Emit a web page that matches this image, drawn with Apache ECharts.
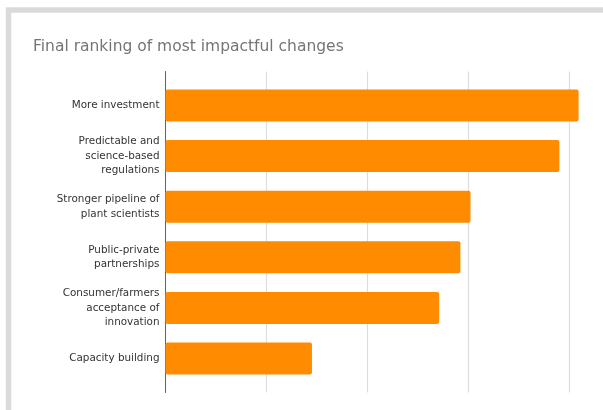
<!DOCTYPE html>
<html>
<head>
<meta charset="utf-8">
<style>
  html, body { margin: 0; padding: 0; background: #ffffff; }
  #chart { width: 603px; height: 410px; }
</style>
<script src="https://cdn.jsdelivr.net/npm/echarts@6/dist/echarts.min.js"></script>
</head>
<body>
<div id="chart"></div>
<script>
// Ranking categories (top to bottom) and their scores
const categories = [
  'More investment',
  'Predictable and\nscience-based\nregulations',
  'Stronger pipeline of\nplant scientists',
  'Public-private\npartnerships',
  'Consumer/farmers\nacceptance of\ninnovation',
  'Capacity building'
];
const scores = [4.09, 3.90, 3.02, 2.92, 2.71, 1.45];
const titleText = 'Final ranking of most impactful changes';

// The value axis runs past the right edge of the panel; 101 px per unit
const plotLeft = 165.5;
const axisMax = (603 - plotLeft) / 101;

const chart = echarts.init(document.getElementById('chart'), null, { renderer: 'canvas' });

const font = 'DejaVu Sans, Verdana, sans-serif';

chart.setOption({
  animation: false,
  backgroundColor: '#ffffff',
  title: {
    text: titleText,
    left: 28,
    top: 34,
    textStyle: { fontFamily: font, fontSize: 15.5, fontWeight: 'normal', color: '#757575' }
  },
  graphic: [{
    type: 'rect',
    shape: { x: 8.5, y: 10, width: 800, height: 600 },
    style: { fill: 'none', stroke: '#dadada', lineWidth: 5.5 },
    silent: true,
    z: -1
  }],
  grid: [
    // frame grid: gridlines and baseline
    { left: plotLeft, right: 0, top: 71.5, height: 321 },
    // bar grid
    { left: plotLeft, right: 0, top: 80.2, height: 303.6 }
  ],
  xAxis: [
    {
      gridIndex: 0, type: 'value', min: 0, max: axisMax, interval: 1,
      axisLine: { show: false }, axisTick: { show: false }, axisLabel: { show: false },
      splitLine: { show: true, showMaxLine: false, lineStyle: { color: '#dcdcdc', width: 1.2 } }
    },
    {
      gridIndex: 1, type: 'value', min: 0, max: axisMax, interval: 1,
      axisLine: { show: false }, axisTick: { show: false }, axisLabel: { show: false },
      splitLine: { show: false }
    }
  ],
  yAxis: [
    {
      gridIndex: 0, type: 'value', min: 0, max: 1,
      axisLine: { show: true, onZero: false, lineStyle: { color: '#666666', width: 1 } },
      axisTick: { show: false }, axisLabel: { show: false }, splitLine: { show: false }
    },
    {
      gridIndex: 1, type: 'category', inverse: true, data: categories,
      axisLine: { show: false }, axisTick: { show: false }, splitLine: { show: false },
      axisLabel: {
        margin: 6,
        fontFamily: font, fontSize: 10.4, lineHeight: 14.5, color: '#333333', align: 'right'
      }
    }
  ],
  series: [{
    type: 'bar',
    xAxisIndex: 1,
    yAxisIndex: 1,
    data: scores,
    barWidth: 32,
    itemStyle: { color: '#ff8c00', borderRadius: 2 }
  }]
});
</script>
</body>
</html>
